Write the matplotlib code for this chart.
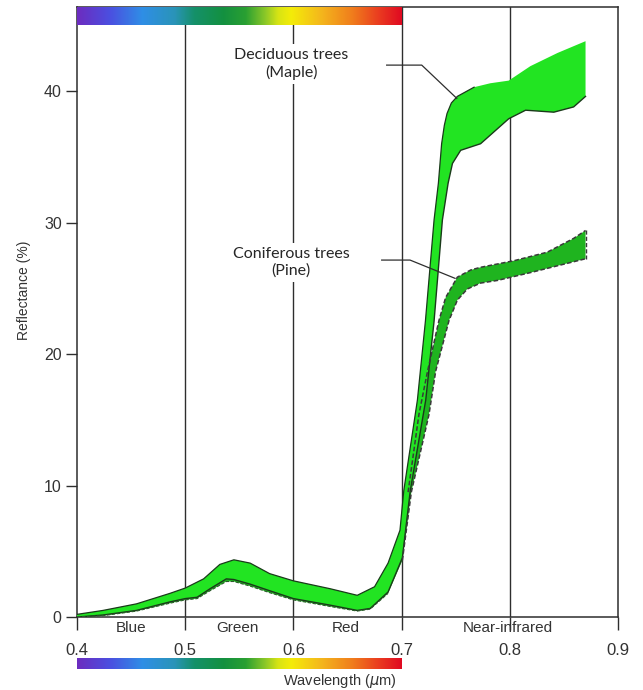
import numpy as np
import matplotlib
matplotlib.use("Agg")
import matplotlib.pyplot as plt
from matplotlib.colors import LinearSegmentedColormap

# ---------------- data ----------------
decid_upper_x = [0.400, 0.424, 0.455, 0.486, 0.500, 0.517, 0.532, 0.545, 0.560, 0.578, 0.600,
                 0.634, 0.659, 0.675, 0.6875, 0.6985, 0.702, 0.7146, 0.722, 0.730, 0.734,
                 0.737, 0.7395, 0.742, 0.746, 0.7515, 0.767, 0.782, 0.799, 0.819, 0.844, 0.870]
decid_upper_y = [0.2, 0.5, 1.0, 1.8, 2.2, 2.9, 4.0, 4.35, 4.1, 3.3, 2.75,
                 2.15, 1.65, 2.3, 4.1, 6.6, 9.6, 16.5, 22.5, 30.2, 33.0,
                 36.0, 37.4, 38.3, 39.1, 39.6, 40.3, 40.6, 40.8, 41.9, 42.9, 43.8]
decid_lower_x = [0.400, 0.424, 0.455, 0.486, 0.500, 0.511, 0.523, 0.538, 0.545, 0.560, 0.578,
                 0.600, 0.634, 0.659, 0.671, 0.6875, 0.7007, 0.708, 0.7223, 0.730, 0.7377,
                 0.743, 0.747, 0.7546, 0.773, 0.799, 0.8146, 0.8407, 0.859, 0.870]
decid_lower_y = [0.0, 0.15, 0.5, 1.15, 1.4, 1.5, 2.15, 2.9, 2.85, 2.5, 2.0,
                 1.4, 0.9, 0.5, 0.65, 1.9, 4.5, 9.6, 16.5, 22.5, 30.2,
                 33.0, 34.5, 35.5, 36.0, 37.9, 38.55, 38.4, 38.8, 39.6]

conif_upper_x = [0.400, 0.424, 0.455, 0.486, 0.500, 0.517, 0.532, 0.545, 0.560, 0.578, 0.600,
                 0.634, 0.659, 0.675, 0.6875, 0.700, 0.706, 0.716, 0.724, 0.7345, 0.7407,
                 0.7515, 0.764, 0.773, 0.8038, 0.8346, 0.859, 0.870]
conif_upper_y = [0.1, 0.35, 0.8, 1.5, 1.9, 2.5, 3.4, 3.8, 3.6, 2.9, 2.4,
                 1.8, 1.3, 1.8, 3.3, 6.0, 9.5, 15.4, 18.7, 22.55, 24.3,
                 25.85, 26.4, 26.6, 27.1, 27.75, 28.8, 29.4]
conif_lower_x = [0.400, 0.424, 0.455, 0.486, 0.500, 0.511, 0.523, 0.538, 0.545, 0.560, 0.578,
                 0.600, 0.634, 0.659, 0.671, 0.6875, 0.7007, 0.709, 0.7253, 0.7315, 0.7438,
                 0.7515, 0.7607, 0.773, 0.7885, 0.8192, 0.853, 0.870]
conif_lower_y = [0.0, 0.1, 0.45, 1.05, 1.3, 1.4, 2.0, 2.7, 2.7, 2.35, 1.85,
                 1.3, 0.8, 0.45, 0.6, 1.8, 4.3, 9.5, 15.4, 18.7, 22.55,
                 24.1, 24.95, 25.4, 25.6, 26.2, 26.9, 27.25]

x_ticks = [0.4, 0.5, 0.6, 0.7, 0.8, 0.9]
x_ticklabels = ["0.4", "0.5", "0.6", "0.7", "0.8", "0.9"]
y_ticks = [0, 10, 20, 30, 40]
region_names = ["Blue", "Green", "Red", "Near-infrared"]
region_pos = [0.45, 0.548, 0.648, 0.798]
grid_x = [0.5, 0.6, 0.7, 0.8]

spectrum_pos = [0.0, 0.10, 0.20, 0.30, 0.36, 0.45, 0.52, 0.58, 0.62, 0.66, 0.75, 0.85, 0.93, 1.0]
spectrum_col = ["#6c2cc0", "#4b4fe0", "#2f8ee6", "#2a94b8", "#15906a", "#139040", "#2aa032",
                "#8cc828", "#d8e414", "#f4ec08", "#f4b81c", "#f07c1c", "#ea3c20", "#e00a22"]

# ---------------- figure ----------------
W, H = 643, 690
fig = plt.figure(figsize=(W / 100, H / 100), dpi=100)
ax = fig.add_axes([77 / W, 73 / H, 541 / W, 610 / H])
ax.set_xlim(0.4, 0.9)
ax.set_ylim(0, 46.4)

line_col = "#2e2e2e"
for s in ax.spines.values():
    s.set_color(line_col)
    s.set_linewidth(1.1)
for gx in grid_x:
    ax.axvline(gx, color=line_col, lw=1.0, zorder=1)

decid_fill = "#22e422"
conif_fill = "#1fb41f"

# coniferous band (below)
cx = conif_upper_x + conif_lower_x[::-1]
cy = conif_upper_y + conif_lower_y[::-1]
ax.fill(cx, cy, color=conif_fill, lw=0, zorder=2)
# deciduous band
dx = decid_upper_x + decid_lower_x[::-1]
dy = decid_upper_y + decid_lower_y[::-1]
ax.fill(dx, dy, color=decid_fill, lw=0, zorder=3)
ax.plot(decid_lower_x, decid_lower_y, color="#1a3a1a", lw=1.0, zorder=4)
ax.plot(decid_upper_x[:27], decid_upper_y[:27], color="#1a3a1a", lw=0.9, zorder=4)
# coniferous dashed edges
ax.plot(conif_upper_x[16:], conif_upper_y[16:], color="#3a3a3a", lw=1.1, ls=(0, (3, 1.5)), zorder=5)
ax.plot(conif_lower_x[16:], conif_lower_y[16:], color="#3a3a3a", lw=1.1, ls=(0, (3, 1.5)), zorder=5)
ax.plot([conif_upper_x[-1], conif_lower_x[-1]], [conif_upper_y[-1], conif_lower_y[-1]],
        color="#3a3a3a", lw=1.0, ls=(0, (3, 1.5)), zorder=5)
ax.plot(conif_lower_x[:16], conif_lower_y[:16], color="#2a5a2a", lw=0.8, ls=(0, (3, 1.5)), zorder=5)

# top spectrum bar
cmap = LinearSegmentedColormap.from_list("spec", list(zip(spectrum_pos, spectrum_col)))
grad = np.linspace(0, 1, 512).reshape(1, -1)
ax.imshow(grad, cmap=cmap, aspect="auto", extent=(0.4, 0.7, 45.05, 46.4), zorder=6)

# annotations
afont = dict(family=["Lato", "DejaVu Sans"], fontsize=11.5, color="#262626")
ax.text(0.598, 42.05, "Deciduous trees\n(Maple)", ha="center", va="center", linespacing=1.2,
        bbox=dict(facecolor="white", edgecolor="none", pad=3), zorder=7, **afont)
ax.text(0.598, 26.95, "Coniferous trees\n(Pine)", ha="center", va="center", linespacing=1.2,
        bbox=dict(facecolor="white", edgecolor="none", pad=3), zorder=7, **afont)
ax.plot([0.6862, 0.7186, 0.751], [41.98, 41.98, 39.45], color=line_col, lw=0.9, zorder=8)
ax.plot([0.6816, 0.7078, 0.7494], [27.15, 27.15, 25.76], color=line_col, lw=0.9, zorder=8)

# axes ticks
tfont = ["Liberation Sans", "DejaVu Sans"]
ax.set_yticks(y_ticks)
ax.set_yticklabels([str(v) for v in y_ticks], fontfamily=tfont, fontsize=11.5, color="#333333")
ax.tick_params(axis="y", direction="out", length=8, width=1.0, color=line_col, pad=3)
ax.set_xticks(x_ticks)
ax.set_xticklabels(x_ticklabels, fontfamily=tfont, fontsize=12, color="#333333")
ax.tick_params(axis="x", which="major", direction="out", length=9, width=1.0, color=line_col, pad=10)
ax.set_xticks(region_pos, minor=True)
ax.set_xticklabels(region_names, minor=True, fontfamily=tfont, fontsize=11, color="#333333")
ax.tick_params(axis="x", which="minor", length=0, pad=3)

ax.set_ylabel("Reflectance (%)", fontfamily=tfont, fontsize=10, color="#333333")
ax.yaxis.set_label_coords(-0.085, 0.536)

# bottom spectrum bar
cax = fig.add_axes([77 / W, (H - 669) / H, 325 / W, 11 / H])
cax.imshow(grad, cmap=cmap, aspect="auto")
cax.set_axis_off()
fig.text(340 / W, 1 - 681 / H, "Wavelength ($\\mu$m)", ha="center", va="center",
         fontfamily=tfont, fontsize=10.5, color="#333333")

fig.savefig("out.png", dpi=100)
